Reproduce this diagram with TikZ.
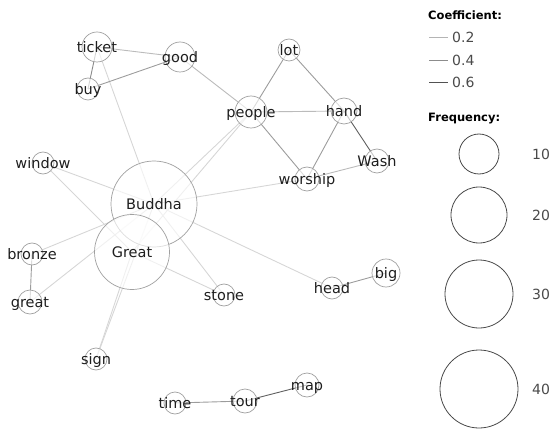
\documentclass[tikz,border=0pt]{standalone}
\usepackage{fontspec}
\setmainfont{DejaVu Sans}
\definecolor{eA}{HTML}{D6D6D6}
\definecolor{eB}{HTML}{BBBBBB}
\definecolor{eC}{HTML}{9C9C9C}
\definecolor{eD}{HTML}{606060}
\definecolor{vgray}{HTML}{A0A0A0}
\definecolor{lgray}{HTML}{4A4A4A}
\definecolor{txt}{HTML}{1E1E1E}
\begin{document}
\begin{tikzpicture}[x=1pt,y=-1pt,
  edge/.style={line width=0.9pt},
  vtx/.style={circle, draw=vgray, line width=0.7pt, fill=white, fill opacity=0.65, inner sep=0pt},
  lbl/.style={anchor=center, text height=10.6pt, text depth=0pt, inner sep=0pt, text=txt, font=\fontsize{14.5}{16}\selectfont},
  legtxt/.style={anchor=base west, inner sep=0pt, text=lgray, font=\fontsize{14}{16}\selectfont},
  leghead/.style={anchor=base west, inner sep=0pt, text=black, font=\fontsize{11.5}{13}\selectfont\bfseries},
  legcirc/.style={circle, draw=lgray, line width=0.8pt, inner sep=0pt}
]
\useasboundingbox (0,0) rectangle (553,430);
% node positions
\coordinate (ticket) at (97,47);
\coordinate (good) at (180,57);
\coordinate (buy) at (88,89);
\coordinate (people) at (251,112);
\coordinate (lot) at (289,50);
\coordinate (hand) at (344,111);
\coordinate (Wash) at (377,161);
\coordinate (worship) at (307,179);
\coordinate (window) at (43,163);
\coordinate (Buddha) at (154,204);
\coordinate (Great) at (132,252);
\coordinate (bronze) at (32,254);
\coordinate (great) at (30,302);
\coordinate (stone) at (224,295);
\coordinate (sign) at (96,359);
\coordinate (head) at (332,288);
\coordinate (big) at (386,273);
\coordinate (time) at (175,403);
\coordinate (tour) at (245,401);
\coordinate (map) at (307,385);
% edges
\foreach \a/\b in {ticket/Buddha, people/Buddha, people/Great, worship/Buddha, window/Buddha, window/Great, bronze/Buddha, great/Buddha, sign/Great, sign/Buddha, stone/Buddha, stone/Great, head/Buddha}
  \draw[edge, eA] (\a) -- (\b);
\foreach \a/\b in {ticket/good, good/people, people/hand, worship/Wash}
  \draw[edge, eB] (\a) -- (\b);
\foreach \a/\b in {buy/good, people/lot, lot/hand, hand/worship, people/worship, bronze/great, head/big, time/tour}
  \draw[edge, eC] (\a) -- (\b);
\draw[edge, color=eC!70!eD] (ticket) -- (buy);
\foreach \a/\b in {hand/Wash, tour/map}
  \draw[edge, eD] (\a) -- (\b);
% vertices
\foreach \n/\r in {ticket/15, good/15, buy/11, people/16, lot/11, hand/13, Wash/12, worship/12, window/11, Buddha/43, Great/37.5, bronze/11, great/12, stone/11, sign/11, head/11, big/14, time/11, tour/12, map/12}
  \node[vtx, minimum size=2*\r] (c-\n) at (\n) {};
\foreach \n in {ticket, good, buy, people, lot, hand, Wash, worship, window, Buddha, Great, bronze, great, stone, sign, head, big, time, tour, map}
  \node[lbl] (t-\n) at (\n) {\n};
% legend
\node[leghead] (coefh) at (428,20) {Coefficient:};
\coordinate (l1a) at (429,37); \coordinate (l1b) at (448,37);
\coordinate (l2a) at (429,60); \coordinate (l2b) at (448,60);
\coordinate (l3a) at (429,82); \coordinate (l3b) at (448,82);
\draw[edge, eA!80!black!90] (l1a) -- (l1b);
\draw[edge, color=eC!90!black] (l2a) -- (l2b);
\draw[edge, color=eD!85!black] (l3a) -- (l3b);
\node[legtxt] (c1) at (452,43) {0.2};
\node[legtxt] (c2) at (452,65.5) {0.4};
\node[legtxt] (c3) at (452,87.5) {0.6};
\node[leghead] (freqh) at (428,122) {Frequency:};
\node[legcirc, minimum size=40] (f10) at (479,154) {};
\node[legcirc, minimum size=56] (f20) at (479,215) {};
\node[legcirc, minimum size=68] (f30) at (479,294) {};
\node[legcirc, minimum size=78] (f40) at (479,389) {};
\node[legtxt, anchor=west, text height=10.2pt, text depth=0pt] (n10) at (532,154) {10};
\node[legtxt, anchor=west, text height=10.2pt, text depth=0pt] (n20) at (532,215) {20};
\node[legtxt, anchor=west, text height=10.2pt, text depth=0pt] (n30) at (532,294) {30};
\node[legtxt, anchor=west, text height=10.2pt, text depth=0pt] (n40) at (532,389) {40};
\end{tikzpicture}
\end{document}
